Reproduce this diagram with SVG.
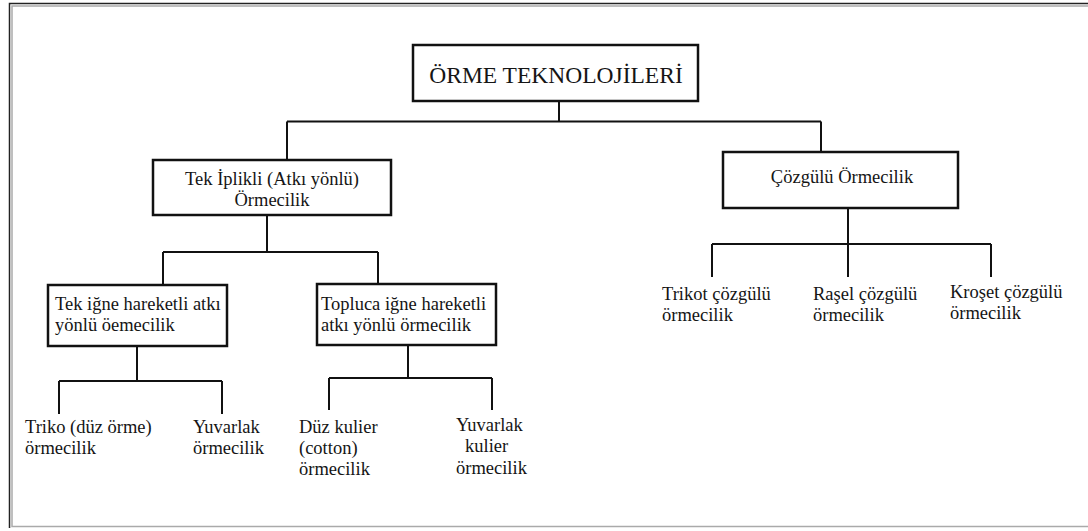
<svg xmlns="http://www.w3.org/2000/svg" width="1088" height="531" viewBox="0 0 1088 531">
  <defs>
    <style>
      .box { fill: #fff; stroke: #111; stroke-width: 2.5; }
      .wire { fill: none; stroke: #111; stroke-width: 2; }
    </style>
  </defs>
  <rect width="1088" height="531" fill="#fff"/>

  <!-- page frame -->
  <g id="frame" fill="none">
    <path d="M1088 3.5 H9.5 V528" stroke="#222" stroke-width="1.5"/>
    <path d="M1088 6 H12 V526.5 H1088" stroke="#aaa" stroke-width="1.5"/>
  </g>

  <!-- connectors -->
  <g id="connectors" class="wire">
    <path d="M559 101 V121.5 M287 121.5 H821 M287 121.5 V160 M821 121.5 V152"/>
    <path d="M267 215 V252 M163 252 H378 M163 252 V285 M378 252 V284"/>
    <path d="M137 346 V381 M59 381 H222 M59 381 V414 M222 381 V414"/>
    <path d="M408 345 V378 M329 378 H492 M329 378 V410 M492 378 V410"/>
    <path d="M848 208 V244 M712 244 H991 M712 244 V277 M848 244 V277 M991 244 V277"/>
  </g>

  <g font-family="'Liberation Serif', 'Times New Roman', serif" font-size="18.5" fill="#151515">
    <g id="root">
      <rect class="box" x="413" y="45" width="285" height="56"/>
      <text x="556" y="83" text-anchor="middle" font-size="23.5">ÖRME TEKNOLOJİLERİ</text>
    </g>

    <g id="weft">
      <rect class="box" x="153" y="160" width="238" height="55"/>
      <text x="272" y="185" text-anchor="middle">Tek İplikli (Atkı yönlü)</text>
      <text x="272" y="206" text-anchor="middle">Örmecilik</text>
    </g>

    <g id="warp">
      <rect class="box" x="723" y="152" width="235" height="56"/>
      <text x="842" y="183" text-anchor="middle">Çözgülü Örmecilik</text>
    </g>

    <g id="single-needle">
      <rect class="box" x="48" y="285" width="179" height="61"/>
      <text x="55" y="310">Tek iğne hareketli atkı</text>
      <text x="55" y="331">yönlü öemecilik</text>
    </g>

    <g id="collective-needle">
      <rect class="box" x="317" y="284" width="179" height="61"/>
      <text x="321" y="310">Topluca iğne hareketli</text>
      <text x="321" y="331">atkı yönlü örmecilik</text>
    </g>

    <g id="tricot-flat">
      <text x="25" y="433">Triko (düz örme)</text>
      <text x="25" y="454">örmecilik</text>
    </g>

    <g id="circular">
      <text x="193" y="433">Yuvarlak</text>
      <text x="193" y="454">örmecilik</text>
    </g>

    <g id="flat-cotton">
      <text x="299" y="433">Düz kulier</text>
      <text x="299" y="454">(cotton)</text>
      <text x="299" y="475">örmecilik</text>
    </g>

    <g id="circular-kulier">
      <text x="456" y="431">Yuvarlak</text>
      <text x="465" y="452">kulier</text>
      <text x="456" y="474">örmecilik</text>
    </g>

    <g id="tricot-warp">
      <text x="662" y="300">Trikot çözgülü</text>
      <text x="662" y="321">örmecilik</text>
    </g>

    <g id="raschel">
      <text x="813" y="300">Raşel çözgülü</text>
      <text x="813" y="321">örmecilik</text>
    </g>

    <g id="crochet">
      <text x="950" y="298">Kroşet çözgülü</text>
      <text x="950" y="319">örmecilik</text>
    </g>
  </g>
</svg>
